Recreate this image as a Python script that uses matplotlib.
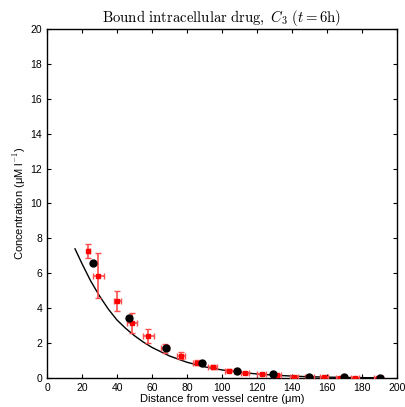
import matplotlib
matplotlib.use('Agg')
import matplotlib.pyplot as plt

plt.rcParams['font.family'] = ['Liberation Sans', 'DejaVu Sans']
plt.rcParams['mathtext.fontset'] = 'cm'

# measured data (red, with error bars)
exp_x = [23.6, 29.3, 40.2, 48.8, 57.9, 67.4, 76.5, 85.9, 94.7, 104.2, 113.1,
         122.7, 131.2, 141.1, 149.9, 158.3, 167.5, 176.0, 189.3]
exp_y = [7.29, 5.86, 4.43, 3.13, 2.41, 1.70, 1.27, 0.88, 0.65, 0.42, 0.30,
         0.21, 0.15, 0.08, 0.05, 0.03, 0.02, 0.02, 0.01]
exp_yerr = [0.40, 1.30, 0.57, 0.57, 0.38, 0.25, 0.20, 0.15, 0.12, 0.08, 0.06,
            0.05, 0.04, 0.03, 0.02, 0.02, 0.02, 0.02, 0.02]
exp_xerr = [1.0, 3.3, 2.2, 2.9, 3.0, 2.5, 2.5, 2.5, 2.5, 2.5, 2.5,
            2.5, 2.5, 2.5, 2.5, 2.5, 2.5, 2.5, 2.5]

# model points (black dots)
mod_x = [26.5, 47.0, 67.8, 88.4, 108.7, 129.3, 149.9, 169.7, 190.3]
mod_y = [6.57, 3.42, 1.70, 0.84, 0.40, 0.21, 0.08, 0.03, 0.02]

# fitted curve (black line)
fit_x = [16, 20, 25, 30, 35, 40, 45, 50, 55, 60, 70, 80, 90, 100, 110, 120,
         130, 140, 150, 160, 170, 180, 190]
fit_y = [7.4, 6.55, 5.55, 4.7, 3.95, 3.32, 2.84, 2.42, 2.06, 1.75, 1.26, 0.9,
         0.64, 0.46, 0.33, 0.23, 0.16, 0.11, 0.07, 0.05, 0.03, 0.02, 0.01]

fig = plt.figure(figsize=(4.06, 4.07), dpi=100)
ax = fig.add_axes([0.1158, 0.0713, 0.862, 0.8575])

ax.plot(fit_x, fit_y, color='black', lw=1.0, zorder=2)
ax.errorbar(exp_x, exp_y, yerr=exp_yerr, xerr=exp_xerr, fmt='s', color='red',
            ecolor=(1, 0.3, 0.3), elinewidth=1.2, capsize=2.5, markersize=3.5,
            zorder=3)
ax.plot(mod_x, mod_y, 'o', color='black', markersize=5, zorder=4)

ax.set_xlim(0, 200)
ax.set_ylim(0, 20)
ax.set_xticks(range(0, 201, 20))
ax.set_yticks(range(0, 21, 2))
ax.tick_params(direction='in', top=True, right=True, labelsize=7.5, length=3)
for s in ax.spines.values():
    s.set_linewidth(1.0)

ax.set_xlabel('Distance from vessel centre (μm)', fontsize=8, labelpad=1)
ax.set_ylabel('Concentration (μM l$^{-1}$)', fontsize=8, labelpad=2)
ax.set_title(r'$\mathrm{Bound\ intracellular\ drug,}\ C_3\ (t = 6\mathrm{h})$',
             fontsize=10.6, pad=5)

fig.savefig('out.png', dpi=100)
